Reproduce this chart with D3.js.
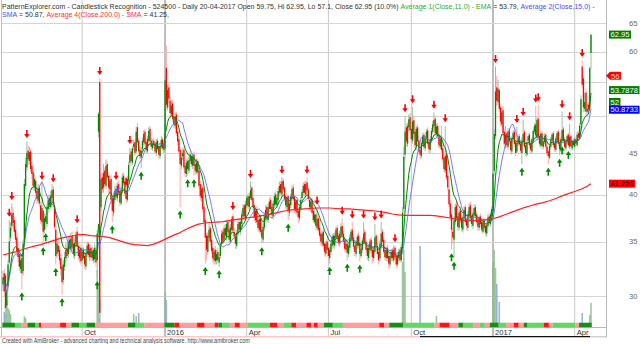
<!DOCTYPE html>
<html>
<head>
<meta charset="utf-8">
<script src="https://cdn.jsdelivr.net/npm/d3@7"></script>
<style>
body { margin: 0; background: #fff; }
svg { display: block; font-family: "Liberation Sans", Arial, sans-serif; }
text { white-space: pre; }
</style>
</head>
<body>
<div id="chart"></div>
<script>
// 524500 daily bars, first trading day of the window
var startDay = "2015-07-06";

var open = [
31.0,32.0,31.8,29.2,30.8,33.0,35.4,36.6,38.0,37.2, 36.2,35.4,34.4,33.8,32.4,33.4,32.2,34.9,41.0,43.2,
45.3,44.0,45.2,43.4,42.6,40.8,41.6,40.4,39.3,40.8, 38.8,37.0,38.2,36.2,37.6,36.8,38.4,39.6,38.6,39.6,
40.6,38.8,36.2,33.8,34.6,34.2,33.4,32.6,31.4,32.6, 33.4,34.4,33.8,35.2,34.2,35.6,34.8,33.6,34.8,36.0,
34.6,33.4,34.4,33.2,34.2,33.6,32.6,33.8,34.8,33.5, 34.4,33.4,34.2,33.3,34.2,33.2,47.8,55.0,38.6,42.0,
40.8,42.8,41.0,43.6,42.2,40.6,41.8,39.6,38.0,39.4, 40.6,39.6,41.2,40.4,39.0,40.4,42.2,41.4,40.4,39.4,
41.6,43.8,45.2,43.8,45.8,46.4,45.2,48.4,46.6,45.4, 44.4,45.5,46.4,47.8,46.4,45.2,46.6,48.2,46.6,45.6,
46.6,46.2,45.0,46.6,45.8,44.6,45.8,46.8,45.4,45.6, 57.3,51.2,54.2,52.2,50.2,51.8,49.8,48.6,50.2,47.8,
46.8,45.4,43.4,44.6,45.4,43.4,42.4,44.0,42.8,44.0, 44.6,43.4,44.8,43.6,42.6,44.0,42.8,41.2,39.6,40.8,
38.6,37.2,35.6,34.0,35.4,36.4,35.2,34.4,33.2,34.2, 33.2,34.0,33.0,33.6,34.8,36.0,35.2,36.4,35.4,37.0,
36.2,35.0,36.2,37.6,36.0,35.6,34.6,35.8,37.0,36.0, 36.8,37.6,38.8,37.4,38.8,39.8,38.6,39.6,40.8,39.6,
38.8,37.2,38.4,37.2,36.2,37.4,36.2,35.2,36.4,37.4, 38.6,37.2,38.4,39.4,38.6,37.6,38.8,40.0,38.8,39.4,
40.2,41.2,40.0,41.6,40.8,39.8,38.6,39.8,38.0,38.8, 39.6,40.8,39.8,38.2,39.4,38.2,37.4,38.4,39.6,40.2,
41.2,40.0,41.4,40.6,39.4,38.4,39.4,38.2,37.0,37.8, 36.4,37.4,36.4,35.8,34.8,36.0,34.8,33.8,35.0,34.4,
33.4,34.0,34.6,35.6,34.6,35.4,36.4,35.6,34.8,35.6, 36.6,35.8,35.2,34.2,34.8,33.8,34.4,35.2,36.2,35.4,
34.6,33.8,34.6,35.6,34.8,33.6,34.2,35.0,36.0,35.0, 34.4,33.4,34.2,35.2,34.2,33.4,34.0,35.6,34.6,34.0,
33.4,34.6,36.0,35.2,34.2,33.4,34.4,33.6,32.8,33.4, 34.2,33.2,34.4,33.6,32.8,33.4,34.2,33.2,34.6,38.4,
44.8,48.4,46.2,48.4,49.8,48.2,46.6,49.4,47.8,45.8, 48.4,46.6,45.4,44.6,46.2,47.4,45.6,46.8,48.0,46.4,
45.4,46.6,47.8,48.6,49.6,47.4,48.6,47.4,45.8,47.0, 45.6,44.4,42.8,44.8,42.2,40.6,39.0,37.8,36.0,35.2,
37.0,38.8,37.6,36.4,38.2,37.4,36.2,37.4,38.6,37.2, 36.4,37.6,38.8,37.6,36.6,37.8,38.6,37.8,37.2,36.4,
37.6,37.0,36.0,37.2,36.6,35.8,36.6,37.6,36.8,37.6, 38.2,42.8,47.2,54.2,52.0,53.8,51.2,48.8,50.8,47.8,
46.0,47.6,45.8,48.0,46.6,45.2,46.8,47.8,46.4,45.2, 46.2,47.2,46.2,45.0,46.4,47.8,46.0,44.8,46.6,47.4,
46.2,45.2,46.6,47.8,48.8,47.0,49.6,47.2,46.0,47.6, 45.8,46.4,47.4,45.8,45.2,44.4,45.8,46.6,47.6,46.2,
45.4,46.6,47.8,46.4,45.4,46.6,48.2,46.8,45.6,46.4, 47.4,45.8,47.2,45.6,46.6,45.8,46.8,46.0,47.6,47.0,
48.8,57.5,55.6,51.0,53.4,50.6,51.6,51.0,59.75];

var high = [
32.2,32.4,32.0,30.9,33.2,37.2,37.0,39.0,38.6,37.6, 36.6,35.8,34.9,34.0,33.8,33.8,35.2,41.8,44.4,46.5,
46.0,45.8,45.6,43.9,42.9,42.4,42.0,40.9,41.2,41.0, 39.2,41.3,38.6,37.9,38.0,39.0,39.9,40.0,40.4,41.2,
41.0,39.2,36.6,35.4,35.2,34.6,33.8,33.0,33.2,34.0, 34.8,34.9,35.5,35.6,35.9,36.0,35.2,35.3,36.0,36.5,
35.0,34.6,34.7,34.3,34.5,33.9,34.2,35.0,35.0,34.7, 34.7,34.5,34.4,34.8,34.5,36.2,50.6,55.6,42.4,42.6,
43.6,43.2,44.2,44.0,42.6,42.2,42.3,40.0,40.2,41.0, 41.3,41.4,41.6,40.8,40.9,42.5,42.6,41.8,40.6,42.2,
43.9,45.7,45.5,45.9,46.7,46.8,48.5,49.0,46.9,45.8, 45.7,47.0,48.0,48.2,46.8,47.2,48.4,48.6,47.0,46.8,
47.0,46.5,46.8,46.9,46.0,46.3,47.2,47.1,46.3,56.0, 61.0,54.6,54.8,52.8,52.2,52.3,50.4,50.5,50.6,48.4,
47.2,45.8,44.9,45.6,45.8,43.9,44.2,44.4,44.6,45.4, 45.0,44.9,45.2,44.0,44.3,44.3,43.1,41.6,41.2,41.0,
39.0,37.5,35.9,35.9,36.8,36.6,35.6,34.8,34.4,34.6, 34.2,34.4,33.9,34.9,36.2,36.4,36.7,36.8,37.2,37.4,
36.6,36.8,37.6,37.9,36.4,35.9,36.2,37.2,37.3,37.4, 38.2,38.9,39.0,39.3,40.0,40.1,40.2,41.5,41.0,39.8,
39.0,38.6,38.7,37.5,37.7,37.8,36.5,36.9,38.0,38.8, 38.9,38.9,39.6,39.8,38.9,39.3,40.2,40.4,40.0,40.8,
41.5,41.6,42.0,41.9,41.0,40.1,40.0,40.0,39.4,40.1, 41.0,41.2,40.0,39.5,39.6,38.5,38.9,39.7,40.6,41.4,
41.5,41.6,42.0,40.9,39.8,39.5,39.6,38.5,38.2,38.0, 38.5,37.6,36.7,36.0,36.1,36.2,35.0,35.1,35.3,34.6,
34.5,35.1,35.8,35.9,35.9,36.5,36.7,35.9,36.1,36.9, 37.4,36.1,35.5,35.1,35.1,34.9,35.7,36.3,37.0,35.7,
34.9,35.1,35.8,36.0,35.0,34.6,35.4,37.0,36.3,35.2, 34.6,34.7,35.3,35.5,34.5,34.5,36.8,35.8,34.9,34.2,
35.1,37.0,36.3,35.5,34.5,34.5,34.7,33.9,33.9,34.3, 34.4,34.6,34.6,33.8,33.9,34.3,34.4,34.8,38.6,45.8,
50.0,49.0,49.0,50.2,50.4,48.6,51.3,50.0,48.2,48.6, 48.8,47.2,45.9,46.6,47.6,47.7,47.2,48.2,48.4,46.8,
47.2,48.3,49.3,50.5,50.0,48.9,49.0,47.8,47.3,48.6, 46.0,44.8,48.6,45.0,42.5,41.0,39.4,38.1,36.4,37.6,
39.0,39.2,37.9,38.4,38.6,37.7,37.9,38.7,38.9,37.5, 38.2,39.0,39.2,37.9,38.2,38.9,38.9,38.1,37.4,37.7,
37.9,37.3,37.3,37.5,36.9,37.0,37.8,37.9,38.1,38.7, 42.8,48.2,57.5,56.0,55.4,54.2,51.8,51.2,51.4,48.2,
48.6,47.9,48.3,48.3,46.9,47.2,48.0,48.1,46.7,48.5, 47.4,47.5,46.5,47.0,49.5,48.1,46.4,46.8,47.6,47.7,
46.6,47.1,48.2,49.0,51.4,49.8,51.6,47.5,47.9,47.9, 46.8,47.6,47.7,46.1,45.5,46.2,47.1,47.7,47.9,46.5,
47.2,47.9,48.1,46.7,47.1,50.6,48.5,47.1,46.8,47.5, 47.7,48.9,47.5,46.7,46.9,47.1,47.1,47.8,47.9,49.0,
53.0,58.5,56.0,53.4,54.0,51.8,52.0,57.5,62.95];

var low = [
30.4,30.0,28.5,28.8,30.4,32.8,35.0,36.2,36.4,35.5, 34.8,33.6,33.0,32.2,32.0,30.6,31.8,34.6,40.6,42.8,
43.5,43.6,42.6,41.8,40.5,40.4,39.8,39.0,39.0,38.6, 36.8,36.6,34.8,35.8,36.2,36.5,38.0,38.3,38.4,39.2,
38.6,36.2,32.8,33.4,33.6,32.8,31.8,30.1,31.0,32.2, 33.0,33.2,33.4,34.0,34.0,34.3,33.4,33.3,34.5,34.2,
33.2,33.0,32.8,32.9,33.1,32.4,32.3,33.5,33.4,33.1, 33.2,33.1,32.9,33.0,32.6,31.6,47.0,28.2,38.2,40.2,
40.2,40.8,40.6,41.6,40.2,40.2,39.0,37.0,37.6,39.0, 39.4,39.2,39.9,38.7,38.8,40.1,41.0,39.8,39.0,39.2,
41.2,43.4,43.6,43.5,45.3,44.6,45.0,46.0,44.8,44.2, 43.1,45.2,46.0,45.9,44.9,45.0,46.3,46.2,45.4,45.3,
45.6,44.9,44.6,45.2,44.3,44.2,45.5,45.3,45.0,45.2, 51.0,50.8,51.8,49.8,49.8,49.2,48.3,48.2,47.2,46.0,
44.8,38.6,43.0,44.1,42.9,42.0,42.0,42.2,42.5,43.6, 43.2,43.0,42.2,42.3,42.4,42.2,40.6,39.3,39.2,38.0,
36.5,32.9,33.2,33.7,35.0,34.6,33.8,33.0,32.8,32.8, 32.8,32.9,32.6,33.4,34.5,34.7,34.9,35.2,35.1,35.7,
34.8,34.9,36.0,35.9,35.2,34.3,34.3,35.6,35.9,35.7, 36.5,37.3,37.2,37.2,38.5,38.4,38.4,39.4,39.1,38.2,
37.1,36.9,36.7,36.0,35.9,35.7,34.8,34.9,36.1,37.0, 37.0,36.9,38.1,38.1,37.4,37.3,38.5,38.6,38.5,39.1,
39.8,39.9,39.7,40.3,39.2,38.4,38.3,37.2,37.6,38.5, 39.3,39.3,38.0,37.9,37.7,36.9,37.1,38.1,39.3,39.9,
39.8,39.7,40.2,39.2,38.2,38.1,37.8,36.9,36.8,36.2, 36.1,35.9,35.3,34.6,34.5,34.3,33.6,33.5,33.9,33.2,
32.9,33.7,34.3,34.4,34.3,35.1,35.1,34.6,34.5,35.3, 35.4,34.7,34.0,33.9,33.2,33.5,34.1,34.9,34.9,34.2,
33.6,33.5,34.3,34.3,33.1,33.4,33.9,34.8,34.6,33.9, 33.2,33.1,33.9,33.8,32.9,33.1,33.8,34.2,33.5,32.8,
33.1,34.3,34.8,33.8,33.2,33.1,33.1,32.4,32.5,33.1, 33.1,33.0,33.3,32.5,32.6,33.1,33.0,33.0,34.3,38.0,
44.2,45.8,45.8,47.8,47.6,46.2,46.2,47.0,45.3,45.4, 46.0,44.8,44.2,44.3,45.9,45.4,45.2,46.4,45.8,45.0,
45.0,46.3,47.5,48.3,47.2,47.0,46.9,45.6,45.5,45.0, 43.8,42.6,42.5,41.6,40.4,38.6,37.2,34.2,34.8,33.4,
36.7,37.1,36.1,36.1,36.9,36.0,35.9,37.1,36.7,36.2, 36.1,37.3,37.1,36.5,36.3,37.5,37.3,36.7,36.1,36.1,
36.5,35.9,35.8,36.1,35.6,35.5,36.3,36.6,36.5,37.3, 37.9,42.2,46.8,51.4,51.6,50.6,48.6,48.4,47.2,45.8,
45.6,45.6,45.4,46.1,45.0,44.8,46.5,45.8,44.6,44.9, 45.9,45.8,44.9,43.6,46.0,45.5,44.6,44.5,46.3,45.6,
45.0,44.9,46.3,47.5,47.0,46.7,46.8,45.8,45.7,45.5, 45.5,46.1,45.5,44.7,43.6,44.2,45.5,46.3,45.7,45.2,
45.1,46.3,45.9,44.7,45.1,46.3,46.3,45.5,45.3,46.1, 45.7,45.5,45.6,45.3,45.7,45.5,45.9,45.8,46.7,46.8,
48.5,54.0,50.5,50.6,50.2,50.0,50.4,50.7,57.1];

var close = [
31.6,30.4,29.0,30.5,32.8,35.0,36.4,37.8,36.9,36.0, 35.2,34.0,33.5,32.6,33.2,32.0,34.8,41.2,43.6,45.0,
44.2,45.1,43.0,42.4,41.0,41.8,40.2,39.5,40.6,39.0, 37.2,38.5,36.0,37.4,37.0,38.6,39.4,38.8,39.9,40.5,
39.0,36.5,33.6,34.8,34.0,33.2,32.4,31.2,32.8,33.5, 34.2,33.6,35.0,34.4,35.3,34.6,33.8,34.9,35.6,34.5,
33.6,34.2,33.1,34.0,33.4,32.8,33.9,34.6,33.7,34.3, 33.5,34.1,33.2,34.4,33.0,35.8,50.3,28.6,41.8,40.6,
42.5,41.2,43.4,42.0,40.8,41.6,39.4,38.2,39.6,40.4, 39.8,41.0,40.2,39.1,40.5,42.0,41.3,40.1,39.5,41.8,
43.5,44.8,44.0,45.6,46.2,45.0,47.8,46.4,45.2,44.6, 45.3,46.6,47.5,46.2,45.4,46.8,47.9,46.5,45.8,46.3,
46.0,45.2,46.4,45.5,44.8,45.9,46.7,45.6,45.8,55.3, 51.6,53.8,52.5,50.4,51.5,49.6,48.8,49.9,47.6,46.5,
45.2,43.6,44.4,45.0,43.2,42.5,43.8,43.0,44.1,44.8, 43.6,44.5,43.4,42.8,43.9,42.6,41.0,39.8,40.6,38.4,
37.0,35.4,34.2,35.6,36.2,35.0,34.1,33.4,34.0,33.1, 33.8,33.2,33.5,34.6,35.8,35.0,36.3,35.6,36.8,36.0,
35.2,36.4,37.3,36.1,35.5,34.8,35.9,36.8,36.2,37.0, 37.8,38.5,37.6,38.9,39.6,38.7,39.8,40.5,39.4,38.6,
37.5,38.2,37.0,36.4,37.3,36.0,35.4,36.5,37.6,38.3, 37.4,38.6,39.2,38.4,37.8,39.0,39.8,38.9,39.6,40.4,
41.0,40.2,41.5,40.6,39.5,38.8,39.6,38.2,39.0,39.8, 40.6,39.6,38.4,39.2,38.0,37.5,38.6,39.4,40.3,41.0,
40.2,41.2,40.5,39.5,38.6,39.2,38.0,37.2,37.8,36.6, 37.3,36.2,35.6,35.0,35.8,34.6,34.0,34.8,34.2,33.6,
34.2,34.8,35.5,34.7,35.6,36.2,35.4,34.9,35.8,36.5, 35.7,35.0,34.3,34.8,33.9,34.6,35.4,36.0,35.2,34.5,
34.0,34.8,35.5,34.6,33.8,34.3,35.1,35.8,34.9,34.2, 33.6,34.4,35.0,34.1,33.5,34.2,35.4,34.6,33.8,33.2,
34.8,35.8,35.0,34.0,33.5,34.2,33.4,32.9,33.6,34.0, 33.4,34.2,33.5,32.8,33.6,34.0,33.2,34.5,38.0,44.5,
47.8,46.5,48.6,49.5,48.0,46.8,49.2,47.5,46.0,48.2, 46.5,45.2,44.8,46.3,47.2,45.8,46.9,47.8,46.2,45.5,
46.8,47.9,48.8,49.4,47.6,48.5,47.2,46.0,46.9,45.4, 44.2,43.0,44.6,42.0,40.8,38.9,37.5,36.2,35.4,37.2,
38.6,37.4,36.5,38.0,37.2,36.4,37.5,38.3,37.0,36.6, 37.8,38.6,37.4,36.8,37.9,38.5,37.6,37.0,36.5,37.4,
36.8,36.2,37.0,36.4,35.9,36.7,37.5,36.9,37.8,38.4, 42.4,47.5,53.6,52.2,54.0,51.0,49.2,50.5,47.6,46.2,
47.4,46.0,47.8,46.5,45.4,46.9,47.6,46.2,45.0,46.3, 47.0,46.1,45.3,46.6,47.5,45.8,45.0,46.4,47.2,46.0,
45.4,46.8,47.9,48.6,47.3,49.4,47.0,46.2,47.5,45.9, 46.5,47.2,45.8,45.0,44.6,45.9,46.8,47.4,46.0,45.6,
46.9,47.6,46.2,45.5,46.8,48.0,46.6,45.8,46.5,47.2, 46.0,47.1,45.9,46.4,46.0,46.8,46.2,47.4,47.0,48.6,
52.4,54.6,51.2,52.0,50.6,51.0,50.9,57.23,62.95];

var sma200 = [
33.7,33.85,34.0,34.2,34.4,34.55,34.7,34.9,35.1,35.3,
35.45,35.55,35.7,35.7,35.6,35.55,35.5,35.4,35.2,35.0,
34.8,34.7,34.65,34.6,34.75,35.0,35.3,35.6,35.85,36.2,
36.5,36.75,36.9,36.95,37.0,37.05,37.15,37.25,37.35,37.45,
37.55,37.65,37.75,37.9,38.05,38.2,38.3,38.35,38.4,38.45,
38.5,38.5,38.5,38.45,38.4,38.4,38.35,38.3,38.25,38.2,
38.1,38.0,37.85,37.75,37.7,37.7,37.7,37.7,37.7,37.65,
37.55,37.45,37.3,37.2,37.15,37.15,37.2,37.25,37.35,37.55,
37.8,38.05,38.3,38.55,38.75,38.95,39.1,39.3,39.55,39.85,
40.1,40.35,40.6,40.95,41.25];

// candlestick pattern signals (bar numbers)
var bullBars = [15,32,34,42,47,75,87,110,141,147,152,161,172,206,227,260,274,284,357,359,413,434,443,445,450];
var bearBars = [5,7,19,31,40,59,77,90,98,101,183,197,222,242,250,270,278,287,296,301,312,320,326,343,352,392,409,414,424,426,445,451,461];

// visible volume spikes
var volBars = [1,2,3,4,5,6,17,18,75,76,77,104,106,108,129,130,318,319,320,332,345,390,391,392,393,395,461,467,468];
var volValues = [75000,110000,135000,95000,85000,65000,55000,45000,285000,210000,135000,65000,55000,70000,175000,135000,
  325000,385000,275000,405000,55000,325000,385000,295000,215000,125000,70000,60000,120000];

// trend ribbon: state and run length in bars
var ribbonState = ["D","L","P","D","L","R","P","R","P","D","L","D","P","D","L","P","D","R","P","R","P","R","D","L","P","R","P","L","R","P","L","R","P","R","P","R","P","D","L","P","R","P","D","L","P","R","P","D","L","P","L","P","D","L","P","R","P","D","L","R","P","L","P","D"];
var ribbonLen   = [10,5,5,6,3,2,15,5,4,6,6,7,26,6,7,16,8,4,14,6,8,3,3,6,4,4,6,18,6,5,6,4,8,4,2,3,5,7,8,29,4,4,11,25,4,8,7,4,8,5,4,4,7,6,6,4,4,3,13,4,3,18,3,10];

var priceTicks = [30,35,40,45,50,55,60,65];

var tagValues = [62.95, 56, 53.7878, 52, 50.8733, 41.251];
var tagTexts = ["62.95","56","53.7878","52","50.8733","41.251"];
var tagKinds = ["close","level","ema","level2","sma","sma200"];

var headLine1 = [
  ["PatternExplorer.com - Candlestick Recognition - 524500 - Daily 20-04-2017 Open 59.75, Hi 62.95, Lo 57.1, Close 62.95 (10.0%) ", "txt"],
  ["Average 1(Close,11,0) - EMA", "ema"], [" = 53.79, ", "txt"], ["Average 2(Close,15,0) - ", "sma"]];
var headLine2 = [["SMA", "sma"], [" = 50.87, ", "txt"], ["Average 4(Close,200,0) - SMA", "sma200"], [" = 41.25,", "txt"]];

// ---------------------------------------------------------------
var W = 640, H = 344;
var col = { txt: "#333", ema: "#2eaa2e", sma: "#4a4aff", sma200: "#ff3030" };
var ribbonCol = { D: "#159015", L: "#62d862", P: "#ff9c9c", R: "#ff1414" };

var svg = d3.select("#chart").append("svg").attr("width", W).attr("height", H);

var n = close.length;
var parseDay = d3.timeParse("%Y-%m-%d");
var days = [];
for (var d = parseDay(startDay); days.length < n; d = d3.timeDay.offset(d, 1)) {
  if (d.getDay() !== 0 && d.getDay() !== 6) days.push(d);
}

var x = d3.scaleLinear().domain([0, n - 1]).range([3, 591]);
var y = d3.scaleLog().domain([30, 65]).range([296, 23.3]);
var yVol = d3.scaleLinear().domain([0, 500000]).range([327, 227]);

// moving averages
var ema = [], sma = [];
close.forEach(function(c, i) {
  ema.push(i === 0 ? c : ema[i - 1] + (c - ema[i - 1]) * 2 / 12);
  sma.push(d3.mean(close.slice(Math.max(0, i - 14), i + 1)));
});

// quarter gridlines
var qTicks = d3.range(1, n).filter(function(i) {
  var m = days[i].getMonth();
  return m !== days[i - 1].getMonth() && m % 3 === 0;
});

svg.append("g").selectAll("line").data(qTicks).enter().append("line")
  .attr("x1", function(i) { return x(i); }).attr("x2", function(i) { return x(i); })
  .attr("y1", 0).attr("y2", 337)
  .attr("stroke", function(i) { return days[i].getMonth() === 0 ? "#bdbdbd" : "#cacaca"; })
  .attr("stroke-width", function(i) { return days[i].getMonth() === 0 ? 2 : 1; });

svg.append("g").selectAll("line").data(priceTicks).enter().append("line")
  .attr("x1", 2).attr("x2", 606)
  .attr("y1", function(v) { return Math.round(y(v)) + 0.5; })
  .attr("y2", function(v) { return Math.round(y(v)) + 0.5; })
  .attr("stroke", "#d4d4d4");

// borders
svg.append("line").attr("x1", 1.5).attr("x2", 1.5).attr("y1", 0).attr("y2", 337).attr("stroke", "#c0c0c0");
svg.append("line").attr("x1", 606.5).attr("x2", 606.5).attr("y1", 0).attr("y2", 337).attr("stroke", "#b8b8b8");
svg.append("line").attr("x1", 0).attr("x2", 607).attr("y1", 327.5).attr("y2", 327.5).attr("stroke", "#b8b8b8");

// volume
svg.append("g").selectAll("rect").data(volBars).enter().append("rect")
  .attr("x", function(b) { return x(b) - 0.8; })
  .attr("width", 1.6)
  .attr("y", function(b, k) { return yVol(volValues[k]); })
  .attr("height", function(b, k) { return 327 - yVol(volValues[k]); })
  .attr("fill", function(b) { return close[b] >= open[b] ? "#86bb86" : "#86a0d6"; })
  .attr("opacity", 0.8);

// candles
var idx = d3.range(n);
var cg = svg.append("g");
cg.selectAll("line").data(idx).enter().append("line")
  .attr("x1", function(i) { return x(i); }).attr("x2", function(i) { return x(i); })
  .attr("y1", function(i) { return y(high[i]); }).attr("y2", function(i) { return y(low[i]); })
  .attr("stroke", function(i) { return close[i] >= open[i] ? "#9fbf9f" : "#ffaaaa"; })
  .attr("stroke-width", 1);
cg.selectAll("rect").data(idx).enter().append("rect")
  .attr("x", function(i) { return x(i) - 0.65; })
  .attr("width", 1.3)
  .attr("y", function(i) { return y(Math.max(open[i], close[i])); })
  .attr("height", function(i) { return Math.max(1, y(Math.min(open[i], close[i])) - y(Math.max(open[i], close[i]))); })
  .attr("fill", function(i) { return close[i] >= open[i] ? "#008a00" : "#ff0000"; });

// average lines
var line = d3.line().x(function(p) { return x(p[0]); }).y(function(p) { return y(p[1]); });
svg.append("path").datum(sma200.map(function(v, k) { return [Math.min(k * 5, n - 1), v]; }))
  .attr("d", line).attr("fill", "none").attr("stroke", "#ff2020").attr("stroke-width", 1.2);
svg.append("path").datum(sma.map(function(v, i) { return [i, v]; }))
  .attr("d", line).attr("fill", "none").attr("stroke", "#6a6aff").attr("stroke-width", 0.9);
svg.append("path").datum(ema.map(function(v, i) { return [i, v]; }))
  .attr("d", line).attr("fill", "none").attr("stroke", "#008800").attr("stroke-width", 1);

// signal arrows
function arrow(cx, cy, s) {
  return "M" + (cx - 0.8) + "," + (cy - 4 * s) + "L" + (cx + 0.8) + "," + (cy - 4 * s) +
    "L" + (cx + 0.8) + "," + cy + "L" + (cx + 2.7) + "," + cy + "L" + cx + "," + (cy + 4 * s) +
    "L" + (cx - 2.7) + "," + cy + "L" + (cx - 0.8) + "," + cy + "Z";
}
svg.append("g").selectAll("path").data(bearBars).enter().append("path")
  .attr("d", function(i) { return arrow(x(i), y(high[i]) - 7.5, 1); })
  .attr("fill", "#ff0000");
svg.append("g").selectAll("path").data(bullBars).enter().append("path")
  .attr("d", function(i) { return arrow(x(i), y(low[i]) + 7.5, -1); })
  .attr("fill", "#008800");

// ribbon
var runs = [], pos = 0;
ribbonState.forEach(function(s, k) {
  var len = k === ribbonState.length - 1 ? n - pos : ribbonLen[k];
  runs.push({ s: s, a: pos, b: pos + len - 1 });
  pos += len;
});
svg.append("g").selectAll("rect").data(runs).enter().append("rect")
  .attr("x", function(r) { return x(r.a) - 0.65; })
  .attr("width", function(r) { return x(r.b) - x(r.a) + 1.3; })
  .attr("y", 322.7).attr("height", 4.5)
  .attr("fill", function(r) { return ribbonCol[r.s]; });

// x axis labels
var fmtM = d3.timeFormat("%b"), fmtY = d3.timeFormat("%Y");
svg.append("g").selectAll("text").data(qTicks).enter().append("text")
  .attr("x", function(i) { return x(i) + 2; }).attr("y", 334.6)
  .attr("font-size", 7.6).attr("fill", "#333")
  .text(function(i) { return days[i].getMonth() === 0 ? fmtY(days[i]) : fmtM(days[i]); });

// bottom strip line
svg.append("line").attr("x1", 0).attr("x2", 420).attr("y1", 336.8).attr("y2", 336.8).attr("stroke", "#ffb0b0");
svg.append("line").attr("x1", 420).attr("x2", 590).attr("y1", 336.6).attr("y2", 336.6).attr("stroke", "#111").attr("stroke-width", 1.4);
svg.append("line").attr("x1", 590).attr("x2", 607).attr("y1", 336.8).attr("y2", 336.8).attr("stroke", "#bbb");

// price axis labels
svg.append("g").selectAll("text")
  .data(priceTicks.filter(function(v) {
    return tagValues.every(function(t) { return Math.abs(y(t) - y(v)) > 7; });
  }))
  .enter().append("text")
  .attr("x", 637.5).attr("y", function(v) { return y(v) + 2.6; })
  .attr("text-anchor", "end").attr("font-size", 7.6).attr("fill", "#666")
  .text(function(v) { return v; });

// value tags
var tagStyle = {
  close: ["#008000", "#fff"], level: ["#ff0000", "#ffd0d0"], ema: ["#008000", "#fff"],
  level2: ["#008000", "#fff"], sma: ["#0000ff", "#fff"], sma200: ["#ff0000", "#300"]
};
var tg = svg.append("g");
tagValues.forEach(function(v, k) {
  var yy = y(v), st = tagStyle[tagKinds[k]];
  var t = tg.append("text").attr("x", 610.5).attr("y", yy + 2.7)
    .attr("font-size", 7.6).attr("fill", st[1]).text(tagTexts[k]);
  var w = t.node().getComputedTextLength();
  if (tagKinds[k] === "level") {
    t.attr("x", 611);
    tg.insert("path", function() { return t.node(); })
      .attr("d", "M606," + yy + "L610," + (yy - 4) + "L" + (612.5 + w) + "," + (yy - 4) +
        "L" + (612.5 + w) + "," + (yy + 4) + "L610," + (yy + 4) + "Z")
      .attr("fill", st[0]);
  } else {
    tg.insert("rect", function() { return t.node(); })
      .attr("x", 609).attr("y", yy - 4).attr("width", w + 3).attr("height", 8)
      .attr("fill", st[0]);
  }
});

// header, two lines squeezed to the chart width
var head = svg.append("g");
function headLine(parts, yy) {
  var t = head.append("text").attr("x", 0).attr("y", yy).attr("font-size", 7.3);
  parts.forEach(function(p) { t.append("tspan").attr("fill", col[p[1]]).text(p[0]); });
  return t;
}
var h1 = headLine(headLine1, 8.9);
headLine(headLine2, 17.4);
var sx = 594 / h1.node().getComputedTextLength();
head.attr("transform", "translate(2,0) scale(" + sx + ",1)");

// footer
var foot = svg.append("text").attr("x", 0).attr("y", 342.6).attr("font-size", 6.6).attr("fill", "#444")
  .text("Created with AmiBroker - advanced charting and technical analysis software. http://www.amibroker.com");
var fx = 248 / foot.node().getComputedTextLength();
foot.attr("transform", "translate(2,0) scale(" + fx + ",1)");
</script>
</body>
</html>
